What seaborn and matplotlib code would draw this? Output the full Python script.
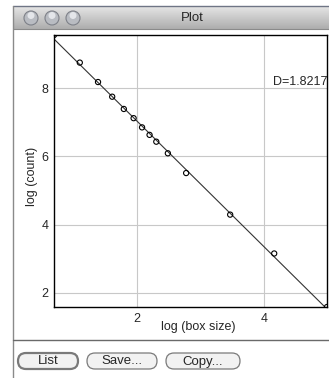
import numpy as np
import matplotlib
matplotlib.use("Agg")
import matplotlib.pyplot as plt
from matplotlib.patches import Circle, FancyBboxPatch, Rectangle
import seaborn as sns

sns.set_style("white")
plt.rcParams["font.family"] = ["Liberation Sans", "DejaVu Sans"]

# box-counting result (natural logs)
log_box_size = [0.693, 1.099, 1.386, 1.609, 1.792, 1.946, 2.079, 2.197,
                2.303, 2.485, 2.773, 3.466, 4.159, 4.990]
log_count = [9.56, 8.75, 8.18, 7.75, 7.39, 7.12, 6.85, 6.63,
             6.43, 6.09, 5.51, 4.29, 3.15, 1.58]
x_ticks = [2, 4]
y_ticks = [2, 4, 6, 8]
dim_label = "D=1.8217"
window_title = "Plot"
button_labels = ["List", "Save...", "Copy..."]

W, H = 329, 378
fig = plt.figure(figsize=(W / 100, H / 100), dpi=100)

# ---- window chrome (pixel coordinates) ----
deco = fig.add_axes([0, 0, 1, 1])
deco.set_xlim(0, W); deco.set_ylim(H, 0); deco.axis("off")
grad = np.linspace(0.90, 0.68, 50)[:, None]
deco.imshow(np.repeat(grad, 2, axis=1), cmap="gray", vmin=0, vmax=1,
            extent=(13, W, 29, 6), aspect="auto", zorder=1)
deco.plot([13, W], [6, 6], color="#6f7585", lw=1, zorder=2)
deco.plot([13, W], [29, 29], color="#8a8a8a", lw=0.8, zorder=2)
deco.plot([13, 13], [6, H], color="#8a8a8a", lw=1, zorder=2)
deco.plot([13, W], [340, 340], color="#6a6a6a", lw=1, zorder=2)
for cx in (31, 52, 73):
    deco.add_patch(Circle((cx, 18), 7, facecolor="#b9bcc2", edgecolor="#7d8088", lw=0.8, zorder=3))
    deco.add_patch(Circle((cx, 15.5), 3.5, facecolor="#e4e6ea", edgecolor="none", zorder=3))
deco.text(192, 18, window_title, ha="center", va="center", fontsize=9.5, zorder=4)
for (x0, x1), lab in zip([(18, 78), (87, 157), (166, 240)], button_labels):
    deco.add_patch(FancyBboxPatch((x0, 353), x1 - x0, 16, boxstyle="round,pad=0,rounding_size=8",
                                  facecolor="#f2f2f2", edgecolor="#7a7a7a",
                                  lw=1.6 if lab == "List" else 0.9, zorder=3))
    deco.text((x0 + x1) / 2, 361.5, lab, ha="center", va="center", fontsize=9.5, zorder=4)

# ---- plot area ----
L, T, R, B = 54, 35, 327, 307
ax = fig.add_axes([L / W, 1 - B / H, (R - L) / W, (B - T) / H])
ax.set_facecolor("white")
sns.regplot(x=log_box_size, y=log_count, ax=ax, ci=None, truncate=True,
            scatter=False, line_kws=dict(color="#333333", lw=0.8))
sns.scatterplot(x=log_box_size, y=log_count, ax=ax, marker="o", s=14,
                facecolor="none", edgecolor="black", linewidth=0.8, zorder=3, clip_on=True)
ax.set_xlim(min(log_box_size), max(log_box_size))
ax.set_ylim(min(log_count), max(log_count))
ax.set_xticks(x_ticks); ax.set_yticks(y_ticks)
ax.grid(True, color="#c8c8c8", lw=0.8)
ax.set_axisbelow(True)
ax.tick_params(length=0, labelsize=9, pad=4)
for s in ax.spines.values():
    s.set_color("black"); s.set_linewidth(1)
ax.set_xlabel("log (box size)", fontsize=9, labelpad=-1)
ax.xaxis.set_label_coords((198 - L) / (R - L), -(327 - B) / (B - T))
ax.set_ylabel("log (count)", fontsize=9)
ax.yaxis.set_label_coords(-(L - 32) / (R - L), (B - 176) / (B - T))
ax.xaxis.label.set_va("center"); ax.yaxis.label.set_va("center")
ax.text((273 - L) / (R - L), (B - 82) / (B - T), dim_label, transform=ax.transAxes,
        ha="left", va="center", fontsize=9, clip_on=False)

fig.savefig("out.png", dpi=100)
